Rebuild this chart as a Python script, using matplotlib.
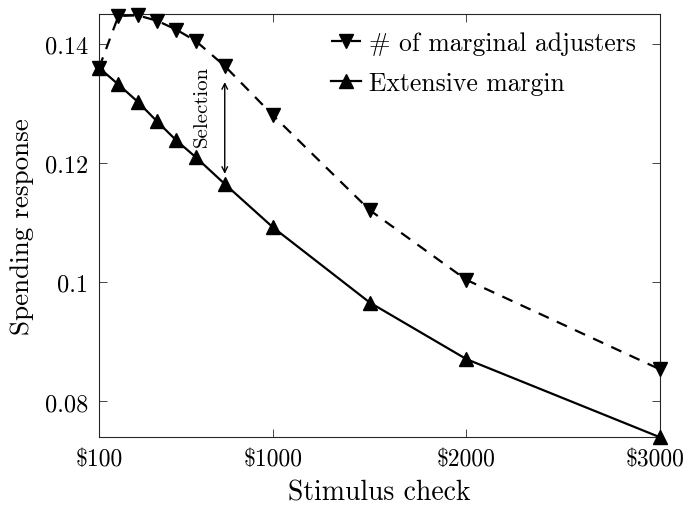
import matplotlib
matplotlib.use("Agg")
import matplotlib.pyplot as plt
import matplotlib.transforms as mtransforms

plt.rcParams['font.family'] = ['cmr10', 'DejaVu Serif']
plt.rcParams['mathtext.fontset'] = 'cm'
plt.rcParams['axes.unicode_minus'] = False

stimulus = [100, 200, 300, 400, 500, 600, 750, 1000, 1500, 2000, 3000]
marginal_adjusters = [0.1360, 0.1447, 0.1448, 0.1439, 0.1424, 0.1405, 0.1363, 0.1280, 0.1121, 0.1004, 0.0854]
extensive_margin = [0.1360, 0.1332, 0.1303, 0.1270, 0.1238, 0.1210, 0.1165, 0.1092, 0.0966, 0.0871, 0.0740]
xticks = [100, 1000, 2000, 3000]
xticklabels = ['\\$100', '\\$1000', '\\$2000', '\\$3000']
yticks = [0.08, 0.10, 0.12, 0.14]
yticklabels = ['0.08', '0.1', '0.12', '0.14']

fig = plt.figure(figsize=(6.88, 5.06), dpi=100)
ax = fig.add_axes([0.144, 0.134, 0.815, 0.836])

ax.plot(stimulus, marginal_adjusters, color='black', linestyle=(0, (5, 4)), linewidth=1.6,
        marker='v', markersize=9.5, label='# of marginal adjusters', clip_on=False, zorder=3)
ax.plot(stimulus, extensive_margin, color='black', linestyle='-', linewidth=1.6,
        marker='^', markersize=9.5, label='Extensive margin', clip_on=False, zorder=3)

ax.annotate('', xy=(750, 0.1182), xytext=(750, 0.1336),
            arrowprops=dict(arrowstyle='<->', color='black', lw=1.0, shrinkA=0, shrinkB=0))
ax.text(632, 0.1296, 'Selection', rotation=90, ha='center', va='center', fontsize=15)

ax.set_xlim(100, 3000)
ax.set_ylim(0.074, 0.145)
ax.set_xticks(xticks)
ax.set_xticklabels(xticklabels)
ax.set_yticks(yticks)
ax.set_yticklabels(yticklabels)
ax.tick_params(direction='in', top=True, right=True, length=6, width=0.6,
               color='#262626', pad=8)
ax.tick_params(axis='y', labelsize=17.5)
ax.tick_params(axis='x', labelsize=17)
for s in ax.spines.values():
    s.set_linewidth(0.8)
    s.set_color('#262626')

# nudge the last x tick label slightly left so it stays inside the figure
last = ax.get_xticklabels()[-1]
last.set_transform(last.get_transform() + mtransforms.ScaledTranslation(-5 / 100, 0, fig.dpi_scale_trans))

ax.set_xlabel('Stimulus check', fontsize=20, labelpad=6)
ax.set_ylabel('Spending response', fontsize=19.5, labelpad=8)

leg = ax.legend(loc='upper right', frameon=False, fontsize=18.5, handlelength=1.2, handletextpad=0.3,
                labelspacing=0.6, borderaxespad=0.2, bbox_to_anchor=(0.985, 0.995))

fig.savefig('out.png', dpi=100)
